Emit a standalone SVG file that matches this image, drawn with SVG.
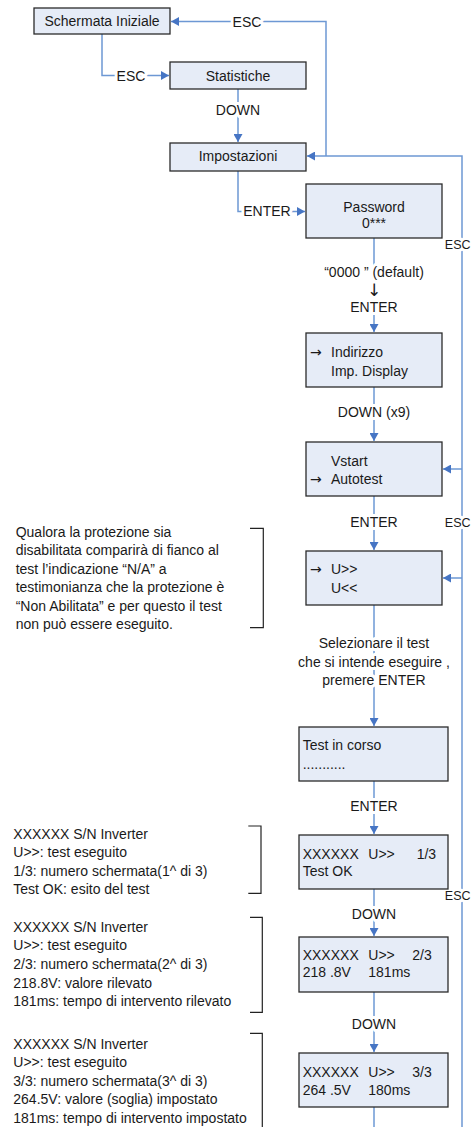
<svg xmlns="http://www.w3.org/2000/svg" width="471" height="1127" viewBox="0 0 471 1127">
<style>
text{font-family:"Liberation Sans",Arial,sans-serif;font-size:14px;fill:#1a1a1a}
.c{text-anchor:middle}
.ar{font-family:"DejaVu Sans",sans-serif;font-size:14px}
.esc{font-size:12.5px;text-anchor:end}
.box{fill:#E6ECF7;stroke:#2b2b2b;stroke-width:1.3}
.ln{fill:none;stroke:#6D98D4;stroke-width:1.5}
.lbl{paint-order:stroke;stroke:#fff;stroke-width:6px;stroke-linejoin:round}
.br{fill:none;stroke:#222;stroke-width:1.2}
</style>
<defs>
<marker id="ah" markerUnits="userSpaceOnUse" markerWidth="9" markerHeight="9" refX="8" refY="4.5" orient="auto">
<path d="M0,0 L8,4.5 L0,9 z" fill="#4675C4"/>
</marker>
</defs>
<rect width="471" height="1127" fill="#fff"/>
<g id="connectors">
<path class="ln" d="M102,34 V75.5 H169" marker-end="url(#ah)"/>
<path class="ln" d="M326,156 V21.5 H171" marker-end="url(#ah)"/>
<path class="ln" d="M462,1127 V156 H307" marker-end="url(#ah)"/>
<path class="ln" d="M462,469 H443" marker-end="url(#ah)"/>
<path class="ln" d="M462,578 H443" marker-end="url(#ah)"/>
<path class="ln" d="M238,89 V142" marker-end="url(#ah)"/>
<path class="ln" d="M238,171 V211.5 H305" marker-end="url(#ah)"/>
<path class="ln" d="M374,238 V332" marker-end="url(#ah)"/>
<path class="ln" d="M374,387 V441" marker-end="url(#ah)"/>
<path class="ln" d="M374,496 V550" marker-end="url(#ah)"/>
<path class="ln" d="M374,605 V726" marker-end="url(#ah)"/>
<path class="ln" d="M374,781 V834" marker-end="url(#ah)"/>
<path class="ln" d="M374,889 V936" marker-end="url(#ah)"/>
<path class="ln" d="M374,992 V1052" marker-end="url(#ah)"/>
<path class="ln" d="M374,1107 V1127"/>
<text class="lbl c" x="131" y="80.5">ESC</text>
<text class="lbl c" x="247" y="26.5">ESC</text>
<text class="lbl c" x="238" y="115">DOWN</text>
<text class="lbl c" x="267" y="216">ENTER</text>
<text class="lbl c" x="374" y="276.5">“0000 ” (default)</text>
<text class="lbl c ar" x="374" y="296" style="font-size:17px">↓</text>
<text class="lbl c" x="374" y="311.5">ENTER</text>
<text class="lbl c" x="374" y="416.5">DOWN (x9)</text>
<text class="lbl c" x="374" y="526.5">ENTER</text>
<text class="lbl c" x="374" y="647.5">Selezionare il test</text>
<text class="lbl c" x="374" y="666.5">che si intende eseguire ,</text>
<text class="lbl c" x="374" y="685">premere ENTER</text>
<text class="lbl c" x="374" y="811">ENTER</text>
<text class="lbl c" x="374" y="918.5">DOWN</text>
<text class="lbl c" x="374" y="1028.5">DOWN</text>
<text class="lbl esc" x="470.5" y="249">ESC</text>
<text class="lbl esc" x="470.5" y="526.5">ESC</text>
<text class="lbl esc" x="470.5" y="900">ESC</text>
</g>
<g id="n-schermata"><rect class="box" x="34" y="8" width="136" height="26"/><text class="c" x="102" y="26">Schermata Iniziale</text></g>
<g id="n-statistiche"><rect class="box" x="170" y="62" width="136" height="27"/><text class="c" x="238" y="80.5">Statistiche</text></g>
<g id="n-impostazioni"><rect class="box" x="170" y="143" width="136" height="28"/><text class="c" x="238" y="161">Impostazioni</text></g>
<g id="n-password"><rect class="box" x="306" y="184" width="136" height="54"/><text class="c" x="374" y="211.5">Password</text><text class="c" x="374" y="228">0***</text></g>
<g id="n-indirizzo"><rect class="box" x="306" y="333" width="136" height="54"/><text class="ar" x="310" y="357">→</text><text x="331" y="357">Indirizzo</text><text x="331" y="376">Imp. Display</text></g>
<g id="n-vstart"><rect class="box" x="306" y="442" width="136" height="54"/><text x="331" y="465.5">Vstart</text><text class="ar" x="310" y="483.5">→</text><text x="331" y="483.5">Autotest</text></g>
<g id="n-umenu"><rect class="box" x="306" y="551" width="136" height="54"/><text class="ar" x="310" y="574">→</text><text x="331" y="574">U&gt;&gt;</text><text x="331" y="592.5">U&lt;&lt;</text></g>
<g id="n-testincorso"><rect class="box" x="299" y="727" width="149" height="54"/><text x="302.7" y="750">Test in corso</text><text x="302.7" y="768.5">...........</text></g>
<g id="n-test1"><rect class="box" x="299" y="835" width="149" height="54"/><text x="302.7" y="858.5">XXXXXX</text><text x="368.3" y="858.5">U&gt;&gt;</text><text x="416.7" y="858.5">1/3</text><text x="302.7" y="875.5">Test OK</text></g>
<g id="n-test2"><rect class="box" x="299" y="937" width="149" height="55"/><text x="302.7" y="960">XXXXXX</text><text x="368.3" y="960">U&gt;&gt;</text><text x="412.3" y="960">2/3</text><text x="302.7" y="977">218 .8V</text><text x="368.3" y="977">181ms</text></g>
<g id="n-test3"><rect class="box" x="299" y="1053" width="149" height="54"/><text x="302.7" y="1076.5">XXXXXX</text><text x="368.3" y="1076.5">U&gt;&gt;</text><text x="412.3" y="1076.5">3/3</text><text x="302.7" y="1095">264 .5V</text><text x="368.3" y="1095">180ms</text></g>
<g id="note-na">
<path class="br" d="M250,528.3 H263.3 V627.7 H250"/>
<text x="15.7" y="536.5">Qualora la protezione sia</text>
<text x="15.7" y="555">disabilitata comparirà di fianco al</text>
<text x="15.7" y="573.5">test l’indicazione “N/A” a</text>
<text x="15.7" y="592">testimonianza che la protezione è</text>
<text x="15.7" y="610.5">“Non Abilitata” e per questo il test</text>
<text x="15.7" y="629">non può essere eseguito.</text>
</g>
<g id="note-1">
<path class="br" d="M248.3,826 H261 V893.3 H248.3"/>
<text x="13.3" y="838.5">XXXXXX S/N Inverter</text>
<text x="13.3" y="857">U&gt;&gt;: test eseguito</text>
<text x="13.3" y="875.5">1/3: numero schermata(1^ di 3)</text>
<text x="13.3" y="894">Test OK: esito del test</text>
</g>
<g id="note-2">
<path class="br" d="M250,917.3 H262.3 V1012.3 H250"/>
<text x="13.3" y="931.5">XXXXXX S/N Inverter</text>
<text x="13.3" y="950">U&gt;&gt;: test eseguito</text>
<text x="13.3" y="968.5">2/3: numero schermata(2^ di 3)</text>
<text x="13.3" y="987.5">218.8V: valore rilevato</text>
<text x="13.3" y="1006">181ms: tempo di intervento rilevato</text>
</g>
<g id="note-3">
<path class="br" d="M250,1033.3 H262.3 V1127"/>
<text x="13.3" y="1049">XXXXXX S/N Inverter</text>
<text x="13.3" y="1067">U&gt;&gt;: test eseguito</text>
<text x="13.3" y="1085.5">3/3: numero schermata(3^ di 3)</text>
<text x="13.3" y="1104">264.5V: valore (soglia) impostato</text>
<text x="13.3" y="1122.5">181ms: tempo di intervento impostato</text>
</g>
</svg>
